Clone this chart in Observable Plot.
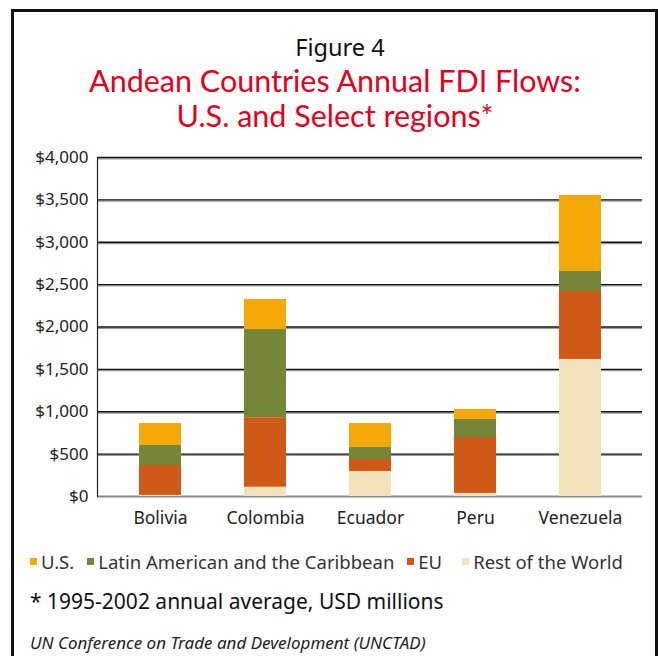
<!DOCTYPE html>
<html>
<head>
<meta charset="utf-8">
<script src="https://cdn.jsdelivr.net/npm/d3@7"></script>
<script src="https://cdn.jsdelivr.net/npm/@observablehq/plot@0.6"></script>
<style>
  html, body { margin: 0; padding: 0; background: #fff; }
  body { width: 658px; height: 656px; position: relative; overflow: hidden; font-family: "Noto Sans", sans-serif; }
  #frame { position: absolute; left: 11px; top: 9px; width: 641px; height: 700px; border: 3px solid #111; border-bottom: none; }
  .t { position: absolute; white-space: nowrap; }
  #fig { left: 0; width: 680px; top: 34px; line-height: 26px; text-align: center; font-size: 23.5px; color: #111; }
  .title { left: 0; width: 670px; text-align: center; font-family: Lato, sans-serif; font-size: 30.5px; line-height: 32px; color: #e2001a; }
  #title1 { top: 64px; }
  #title2 { top: 99px; }
  #chart { position: absolute; left: 0; top: 140px; }
  #legend { left: 30px; top: 549px; font-size: 18.5px; color: #333; display: flex; align-items: center; }
  #legend span.sw { display: inline-block; width: 7px; height: 7px; margin-right: 4px; }
  #legend span.item { display: inline-flex; align-items: center; margin-right: 13px; }
  #legend span.item.wide { margin-right: 20px; }
  #note { left: 30px; top: 587px; font-size: 21px; color: #111; }
  #src { left: 30px; top: 631px; font-size: 17px; font-style: italic; color: #222; }
</style>
</head>
<body>
<div id="frame"></div>
<div class="t" id="fig">Figure 4</div>
<div class="t title" id="title1">Andean Countries Annual FDI Flows:</div>
<div class="t title" id="title2">U.S. and Select regions*</div>
<div id="chart"></div>
<div class="t" id="legend"></div>
<div class="t" id="note">* 1995-2002 annual average, USD millions</div>
<div class="t" id="src">UN Conference on Trade and Development (UNCTAD)</div>
<script>
const countries = ["Bolivia", "Colombia", "Ecuador", "Peru", "Venezuela"];
const seriesNames = ["U.S.", "Latin American and the Caribbean", "EU", "Rest of the World"];
const seriesColors = ["#f5a909", "#768639", "#cf5a18", "#f3e2bd"];
const usValues = [259, 355, 283, 118, 897];
const lacValues = [236, 1040, 141, 213, 236];
const euValues = [354, 822, 142, 660, 802];
const restValues = [12, 108, 295, 36, 1617];
const yTicks = [0, 500, 1000, 1500, 2000, 2500, 3000, 3500, 4000];

const valuesBySeries = [usValues, lacValues, euValues, restValues];
const rows = [];
seriesNames.forEach((s, si) => {
  countries.forEach((c, ci) => rows.push({country: c, series: s, value: valuesBySeries[si][ci]}));
});
const stackOrder = ["Rest of the World", "EU", "Latin American and the Caribbean", "U.S."];

const plot = Plot.plot({
  width: 658,
  height: 396,
  marginLeft: 107.5,
  marginRight: 25.5,
  marginTop: 17,
  marginBottom: 40,
  style: {fontFamily: "'Noto Sans', sans-serif", fontSize: "17px", color: "#222", background: "transparent"},
  x: {domain: countries, paddingInner: 0.6, paddingOuter: 0.3, align: 0.5, label: null},
  y: {domain: [0, 4000], label: null},
  color: {domain: seriesNames, range: seriesColors},
  marks: [
    Plot.ruleY(yTicks.filter(d => d > 0), {stroke: "#999", strokeWidth: 1.2, dy: 1.3, insetLeft: -10.5, insetRight: -9.5}),
    Plot.ruleY(yTicks.filter(d => d > 0), {stroke: "#111", strokeWidth: 1.4, insetLeft: -10.5, insetRight: -9.5}),
    Plot.ruleY([0], {stroke: "#888", strokeWidth: 2.2, insetLeft: -10.5, insetRight: -9.5}),
    Plot.frame({anchor: "left", stroke: "#222", strokeWidth: 1.2, insetLeft: -10.5}),
    Plot.barY(rows, Plot.stackY({order: stackOrder}, {x: "country", y: "value", fill: "series"})),
    Plot.axisY({ticks: yTicks, tickSize: 0, tickPadding: 19.5, tickFormat: d => "$" + d3.format(",")(d), fontSize: 17}),
    Plot.axisX({tickSize: 0, tickPadding: 15, fontSize: 17.5})
  ]
});
document.getElementById("chart").appendChild(plot);

const legend = document.getElementById("legend");
legend.innerHTML = seriesNames.map((s, i) =>
  `<span class="item${s === "EU" ? " wide" : ""}"><span class="sw" style="background:${seriesColors[i]}"></span>${s}</span>`).join("");
</script>
</body>
</html>
